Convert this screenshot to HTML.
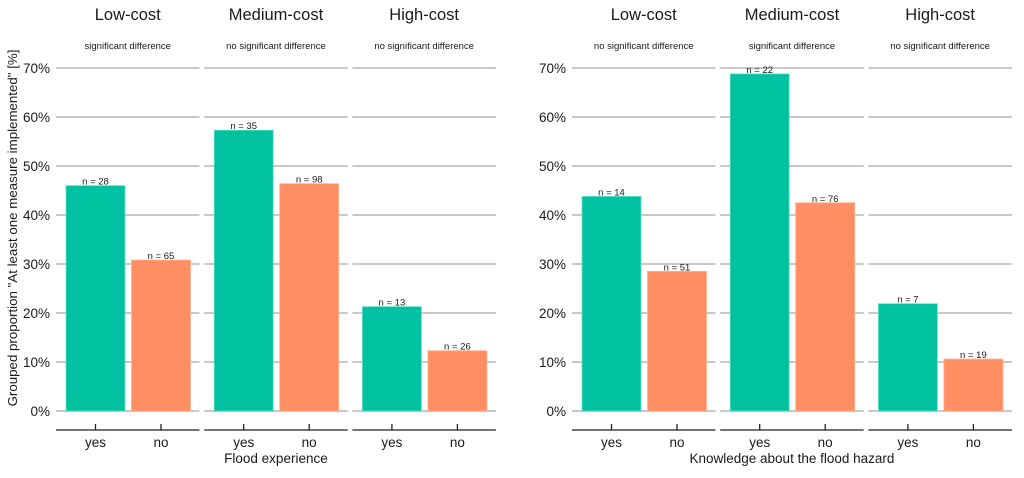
<!DOCTYPE html>
<html><head><meta charset="utf-8"><style>
body{margin:0;background:#fff;}
svg text{font-family:"Liberation Sans",Arial,sans-serif;fill:#1a1a1a;}
</style></head><body>
<svg id="chart" width="1024" height="473" viewBox="0 0 1024 473" xmlns="http://www.w3.org/2000/svg"></svg>
<script>
const panelTitles = ["Low-cost","Medium-cost","High-cost"];
const groups = ["yes","no"];
const leftSig = ["significant difference","no significant difference","no significant difference"];
const rightSig = ["no significant difference","significant difference","no significant difference"];
const leftValues = [46.0,30.8,57.3,46.4,21.3,12.3];
const leftN = [28,65,35,98,13,26];
const rightValues = [43.8,28.5,68.8,42.5,21.9,10.6];
const rightN = [14,51,22,76,7,19];
const yTicks = [0,10,20,30,40,50,60,70];
const yTickLabels = ["0%","10%","20%","30%","40%","50%","60%","70%"];

const svg = document.getElementById('chart');
const NS = 'http://www.w3.org/2000/svg';
function mk(tag, attrs, parent){
  const e = document.createElementNS(NS, tag);
  for (const k in attrs) e.setAttribute(k, attrs[k]);
  (parent||svg).appendChild(e);
  return e;
}
const y0 = 411, yPerPct = 343/70;
function yScale(v){ return y0 - v*yPerPct; }

function drawChart(name, x0, sig, values, ns, xTitle, showYTitle){
  const g = mk('g', {});
  
  
  const pw = 143.5, gap = 4.7;
  // y tick labels
  yTicks.forEach((t,i)=>{
    const tl = mk('text',{x:x0-6,y:yScale(t)+5,'text-anchor':'end','font-size':13.5},g);
    
    
    tl.textContent = yTickLabels[i];
  });
  panelTitles.forEach((pt,p)=>{
    const px = x0 + p*(pw+gap);
    const cx = px + pw/2;
    const title = mk('text',{x:cx,y:20,'text-anchor':'middle','font-size':16.5},g);
    
    
    title.textContent = pt;
    const st = mk('text',{x:cx,y:49,'text-anchor':'middle','font-size':9.5},g);
    
    
    st.textContent = sig[p];
    yTicks.forEach(t=>{
      const gl = mk('line',{x1:px,x2:px+pw,y1:yScale(t),y2:yScale(t),stroke:'#c8c8c8','stroke-width':2},g);
      
      
    });
    const ax = mk('line',{x1:px,x2:px+pw,y1:430,y2:430,stroke:'#222','stroke-width':1.3},g);
    
    
    groups.forEach((gr,j)=>{
      const idx = p*2+j;
      const bx = px + 10 + j*65.5;
      const bw = 59;
      const v = values[idx];
      const bar = mk('rect',{x:bx,y:yScale(v),width:bw,height:y0-yScale(v),fill:j===0?'#00c2a0':'#ff8e62',stroke:j===0?'#66e0c8':'#ffb090','stroke-width':0.8},g);
      
      
      const nl = mk('text',{x:bx+bw/2,y:yScale(v)-1,'text-anchor':'middle','font-size':9.5},g);
      
      
      nl.textContent = 'n = '+ns[idx];
      const tk = mk('line',{x1:bx+bw/2,x2:bx+bw/2,y1:424,y2:430,stroke:'#222','stroke-width':1.3},g);
      
      
      const xl = mk('text',{x:bx+bw/2,y:447,'text-anchor':'middle','font-size':13.5},g);
      
      
      xl.textContent = gr;
    });
  });
  const xt = mk('text',{x:x0+(3*pw+2*gap)/2,y:463,'text-anchor':'middle','font-size':13.5},g);
  
  
  xt.textContent = xTitle;
  if (showYTitle){
    const yt = mk('text',{x:0,y:0,'text-anchor':'middle','font-size':13.3,transform:'translate(17,228) rotate(-90)'},g);
    
    
    yt.textContent = 'Grouped proportion "At least one measure implemented" [%]';
  }
}
drawChart('flood-experience-chart', 56, leftSig, leftValues, leftN, 'Flood experience', true);
drawChart('flood-knowledge-chart', 572, rightSig, rightValues, rightN, 'Knowledge about the flood hazard', false);
</script>
</body></html>
